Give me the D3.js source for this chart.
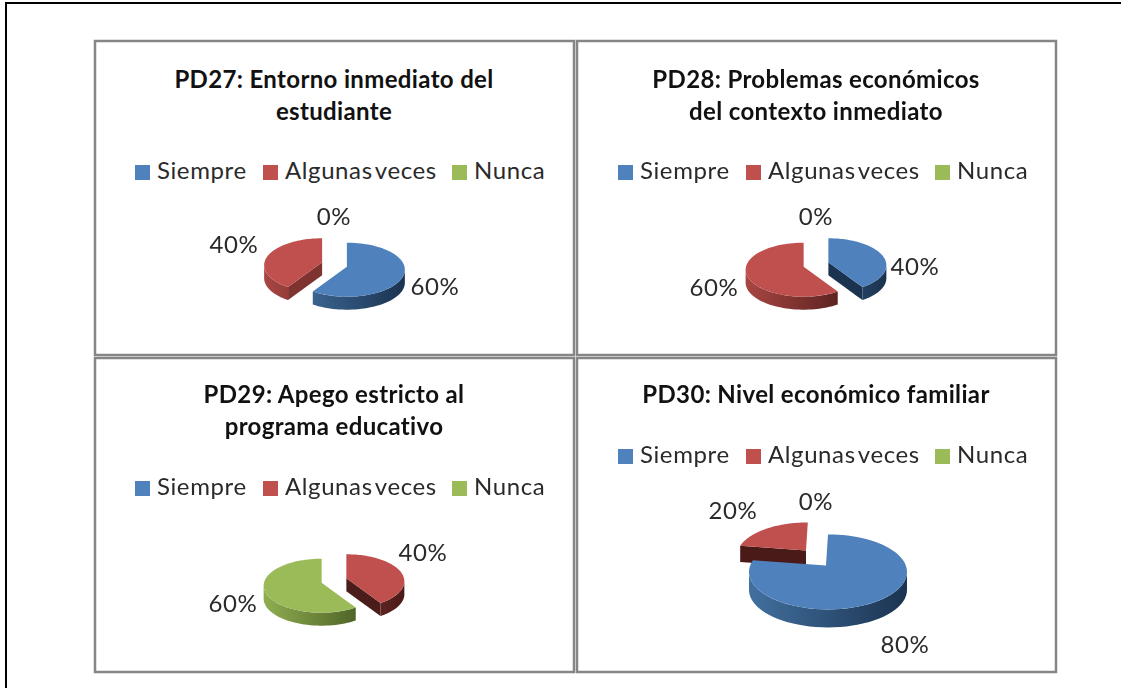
<!DOCTYPE html>
<html>
<head>
<meta charset="utf-8">
<script src="https://cdn.jsdelivr.net/npm/d3@7"></script>
<style>
  html, body { margin: 0; background: #fff; }
  svg { display: block; filter: blur(0.4px); }
  text { font-family: Lato, sans-serif; }
  .title { font-weight: 700; font-size: 24px; fill: #111; letter-spacing: 0.35px; }
  .legend, .pct { font-size: 24px; fill: #2a2a2a; letter-spacing: 0.6px; }
  .legend { word-spacing: -4px; }
</style>
</head>
<body>
<div id="wrapper"></div>
<script>
const categories = ['Siempre', 'Algunas veces', 'Nunca']
const colors = ['#4f81bd', '#c0504d', '#9bbb59']

// values per chart, same order as categories
const pd27 = [60, 40, 0]
const pd28 = [40, 60, 0]
const pd29 = [0, 40, 60]
const pd30 = [80, 20, 0]

const titles27 = ['PD27: Entorno inmediato del', 'estudiante']
const titles28 = ['PD28: Problemas económicos', 'del contexto inmediato']
const titles29 = ['PD29: Apego estricto al', 'programa educativo']
const titles30 = ['PD30: Nivel económico familiar']

// wall shading, light side then dark side
const wallShades = {
    0: ['#42709f', '#1b3350'],
    1: ['#a84643', '#4a1a18'],
    2: ['#8fae50', '#40521e']
}

const dimensions = { width: 1121, height: 688 }

const panels = [
    { values: pd27, title: titles27, x: 95, y: 41, w: 479, h: 314, titleY: [88, 120], legendX: 135, legendY: 179,
      cx: 334.5, cy: 264.5, rx: 58, ry: 27, apex: -0.11, apexX: 0, backScale: 1, depth: 13, explode: 13, cutFill: '#7f3330',
      labels: [[435, 295], [234, 253], [334, 225]] },
    { values: pd28, title: titles28, x: 577, y: 41, w: 479, h: 314, titleY: [88, 120], legendX: 618, legendY: 179,
      cx: 816, cy: 264.5, rx: 58, ry: 27, apex: -0.11, apexX: 0, backScale: 1, depth: 13, explode: 13, cutFill: '#1c334f',
      labels: [[915, 275], [714, 296], [816, 225]] },
    { values: pd29, title: titles29, x: 95, y: 358, w: 479, h: 314, titleY: [403, 435], legendX: 135, legendY: 495,
      cx: 334, cy: 580.5, rx: 58, ry: 27, apex: -0.11, apexX: 0, backScale: 1, depth: 13, explode: 13, cutFill: '#4a1c1a',
      labels: [null, [423, 561], [233, 612]] },
    { values: pd30, title: titles30, x: 577, y: 358, w: 479, h: 314, titleY: [403], legendX: 618, legendY: 463,
      cx: 816, cy: 558, rx: 79, ry: 37.5, apex: -0.17, apexX: -2, backScale: 0.9, depth: 18, explode: 17, cutFill: '#4a1a18',
      labels: [[905, 653], [733, 519], [816, 510]] }
]

const svg = d3.select('#wrapper').append('svg')
    .attr('width', dimensions.width)
    .attr('height', dimensions.height)

const defs = svg.append('defs')

// page frame, only top and left show
svg.append('path')
    .attr('d', 'M6,688V3H1121')
    .attr('fill', 'none')
    .attr('stroke', '#000')
    .attr('stroke-width', 2)

const pie = d3.pie().sort(null).value(d => d).startAngle(0).endAngle(2 * Math.PI)
const lineGen = d3.line()

panels.forEach((p, i) => drawPanel(p, i))

function drawPanel (p, i) {
    const g = svg.append('g')

    g.append('rect')
        .attr('x', p.x)
        .attr('y', p.y)
        .attr('width', p.w)
        .attr('height', p.h)
        .attr('fill', '#fff')
        .attr('stroke', '#868686')
        .attr('stroke-width', 2.5)

    p.title.forEach((t, k) => {
        g.append('text')
            .attr('class', 'title')
            .attr('x', p.x + p.w / 2 - 0.5)
            .attr('y', p.titleY[k])
            .attr('text-anchor', 'middle')
            .text(t)
    })

    drawLegend(g, p)

    const xScale = d3.scaleLinear().domain([-1, 1]).range([-p.rx, p.rx])
    const yScale = d3.scaleLinear().domain([-1, 1]).range([-p.ry, p.ry])
    const point = (a, r = 1) => [xScale(Math.sin(a) * r), yScale(-Math.cos(a) * r)]
    const apexPoint = [p.apexX, yScale(p.apex)]

    const slices = pie(p.values)
        .map((s, k) => ({ ...s, k }))
        .filter(s => s.value > 0)

    slices.forEach(s => {
        const mid = (s.startAngle + s.endAngle) / 2
        s.ox = p.cx + Math.sin(mid) * p.explode
        s.oy = p.cy - Math.cos(mid) * p.explode * 0.55
        // slices at the back come out smaller
        s.scale = Math.cos(mid) > 0 ? p.backScale : 1
    })

    // back slice first
    slices.sort((a, b) => a.oy - b.oy)

    slices.forEach(s => {
        const gs = g.append('g')
            .attr('transform', `translate(${s.ox},${s.oy}) scale(${s.scale}) translate(${-apexPoint[0]},${-apexPoint[1]})`)
        const gradId = `wall-${i}-${s.k}`
        const grad = defs.append('linearGradient')
            .attr('id', gradId)
            .attr('gradientUnits', 'userSpaceOnUse')
            .attr('x1', -p.rx).attr('x2', p.rx)
            .attr('y1', 0).attr('y2', 0)
        grad.append('stop').attr('offset', '0%').attr('stop-color', wallShades[s.k][0])
        grad.append('stop').attr('offset', '100%').attr('stop-color', wallShades[s.k][1])

        // cut faces turned to the viewer
        const cuts = []
        if (Math.sin(s.startAngle) < -0.01) cuts.push(s.startAngle)
        if (Math.sin(s.endAngle) > 0.01) cuts.push(s.endAngle)
        cuts.forEach(a => {
            const e = point(a)
            gs.append('path')
                .attr('d', lineGen([apexPoint, e, [e[0], e[1] + p.depth], [apexPoint[0], apexPoint[1] + p.depth]]) + 'Z')
                .attr('fill', p.cutFill)
        })

        // outer wall, the front half of the rim
        const from = Math.max(s.startAngle, Math.PI / 2)
        const to = Math.min(s.endAngle, Math.PI * 1.5)
        if (to > from) {
            const rim = d3.range(0, 41).map(n => point(from + (to - from) * n / 40))
            const lower = rim.map(d => [d[0], d[1] + p.depth]).reverse()
            gs.append('path')
                .attr('d', lineGen(rim.concat(lower)) + 'Z')
                .attr('fill', `url(#${gradId})`)
        }

        // top surface
        const steps = 80
        const rimTop = d3.range(0, steps + 1).map(n => point(s.startAngle + (s.endAngle - s.startAngle) * n / steps))
        gs.append('path')
            .attr('d', lineGen([apexPoint].concat(rimTop)) + 'Z')
            .attr('fill', colors[s.k])
    })

    p.values.forEach((v, k) => {
        if (!p.labels[k]) return
        g.append('text')
            .attr('class', 'pct')
            .attr('x', p.labels[k][0])
            .attr('y', p.labels[k][1])
            .attr('text-anchor', 'middle')
            .text(v + '%')
    })
}

function drawLegend (g, p) {
    const gap = [0, 128, 317]
    categories.forEach((c, k) => {
        const x = p.legendX + gap[k]
        g.append('rect')
            .attr('x', x)
            .attr('y', p.legendY - 14)
            .attr('width', 15)
            .attr('height', 15)
            .attr('fill', colors[k])
        g.append('text')
            .attr('class', 'legend')
            .attr('x', x + 22)
            .attr('y', p.legendY)
            .text(c)
    })
}
</script>
</body>
</html>
